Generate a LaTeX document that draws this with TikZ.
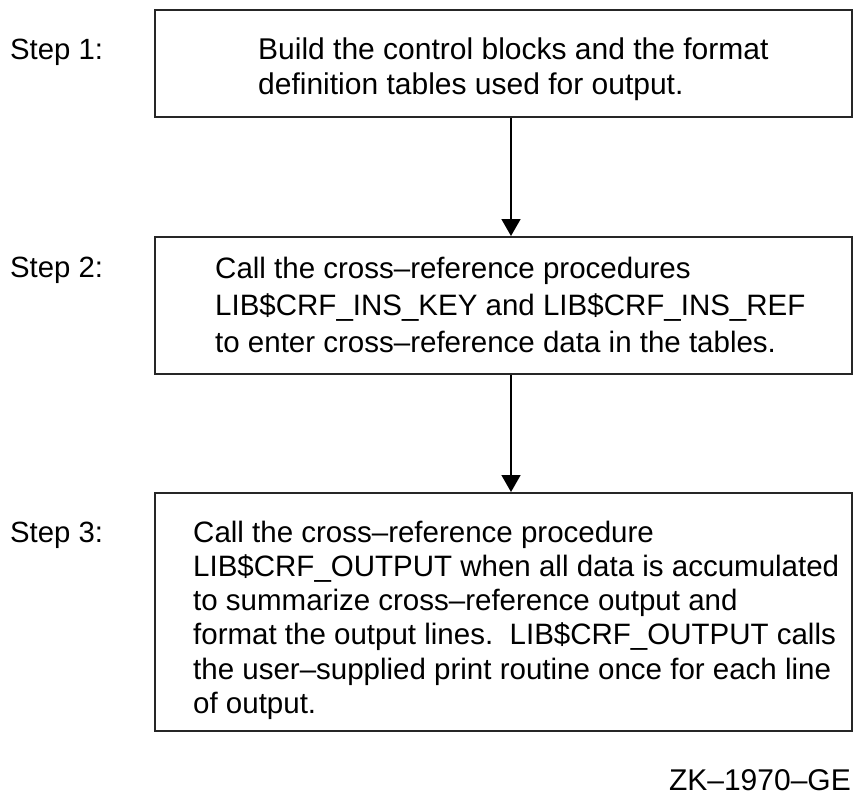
\documentclass[tikz,border=0pt]{standalone}
\usepackage{fontspec}
\setmainfont{Liberation Sans}
\usetikzlibrary{arrows.meta}

\begin{document}
\begin{tikzpicture}[x=1pt,y=-1pt,
  stepbox/.style={draw=black!85, line width=2pt, rectangle, inner sep=0pt},
  steplabel/.style={anchor=base west, inner sep=0pt, font=\fontsize{29.3}{35}\selectfont},
  boxtext/.style={anchor=base west, inner sep=0pt},
  flow/.style={draw=black, line width=1.6pt, -{Triangle[width=19pt,length=17pt]}}]

  % page frame
  \useasboundingbox (0,0) rectangle (853,796);

  % the three step boxes (left 155, right edge at the page border)
  \node[stepbox, minimum width=696.5pt, minimum height=107pt] (b1) at (503.25,63.5) {};
  \node[stepbox, minimum width=696.5pt, minimum height=137pt] (b2) at (503.25,305.5) {};
  \node[stepbox, minimum width=696.5pt, minimum height=238pt] (b3) at (503.25,612) {};

  % step labels
  \node[steplabel] (s1) at (10,59)  {Step 1:};
  \node[steplabel] (s2) at (10,277) {Step 2:};
  \node[steplabel] (s3) at (10,542) {Step 3:};

  % box contents
  \node[boxtext] (t1) at (258,59) {\fontsize{30}{35}\selectfont
    \begin{tabular}[t]{@{}l@{}}
      Build the control blocks and the format\\
      definition tables used for output.
    \end{tabular}};
  \node[boxtext] (t2) at (215,278) {\fontsize{29.5}{37}\selectfont
    \begin{tabular}[t]{@{}l@{}}
      Call the cross–reference procedures\\
      LIB\$CRF\_INS\_KEY and LIB\$CRF\_INS\_REF\\
      to enter cross–reference data in the tables.
    \end{tabular}};
  \node[boxtext] (t3) at (193,542) {\fontsize{29.5}{34.3}\selectfont
    \begin{tabular}[t]{@{}l@{}}
      Call the cross–reference procedure\\
      LIB\$CRF\_OUTPUT when all data is accumulated\\
      to summarize cross–reference output and\\
      format the output lines.\ \ LIB\$CRF\_OUTPUT calls\\
      the user–supplied print routine once for each line\\
      of output.
    \end{tabular}};

  % figure code, flush with the right border
  \node[anchor=base east, inner sep=0pt, font=\fontsize{30}{36}\selectfont] (zk) at (851,790) {ZK–1970–GE};

  % connectors
  \coordinate (axis) at (511,0);
  \draw[flow] (b1.south -| axis) -- (b2.north -| axis);
  \draw[flow] (b2.south -| axis) -- (b3.north -| axis);
\end{tikzpicture}
\end{document}
